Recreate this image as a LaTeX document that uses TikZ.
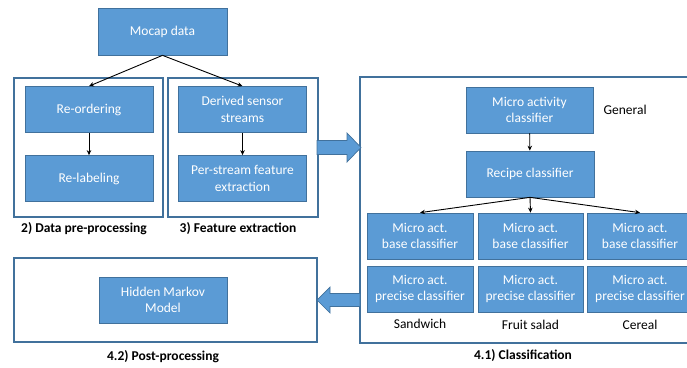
\documentclass[tikz,border=0pt]{standalone}
\usepackage{fontspec}
\setmainfont{Carlito}
\usetikzlibrary{arrows.meta}
\definecolor{boxfill}{HTML}{5B9BD5}
\definecolor{boxline}{HTML}{41719C}
\begin{document}
\begin{tikzpicture}[x=1pt,y=-1pt,
  font=\fontsize{13.5}{16.5}\selectfont,
  block/.style={draw=boxline,line width=0.7pt,fill=boxfill,text=white,
    align=center,inner sep=0pt,minimum width=128pt,minimum height=46pt},
  small/.style={block,minimum width=106pt},
  frame/.style={draw=boxline,line width=1.1pt},
  caption/.style={font=\fontsize{13.5}{16.5}\selectfont\bfseries,anchor=center},
  plain/.style={anchor=center},
  link/.style={-{Stealth[length=5pt,width=4.5pt]},line width=0.9pt,black},
  bigarrow/.style={draw=boxline,line width=0.7pt,fill=boxfill}]
\useasboundingbox (0,0) rectangle (687,367);

% stage frames
\draw[frame] (14,78) rectangle (163,217);
\draw[frame] (168,78) rectangle (318,217);
\draw[frame] (360,77) rectangle (692,343);
\draw[frame] (14,258) rectangle (317,342);

% input and stages 2 and 3
\node[block,minimum width=129pt,minimum height=47pt] (mocap) at (162.5,31.5) {Mocap data};
\node[block] (reorder) at (89,109.5) {Re-ordering};
\node[block] (relabel) at (89,178.5) {Re-labeling};
\node[block] (derived) at (242.5,109.5) {Derived sensor\\streams};
\node[block] (perstream) at (242.5,178.5) {Per-stream feature\\extraction};

\node[caption] (cap2) at (84,229) {2) Data pre-processing};
\node[caption] (cap3) at (238,229) {3) Feature extraction};

\draw[link] (mocap.south) -- (reorder.north);
\draw[link] (mocap.south) -- (derived.north);
\draw[link] (reorder) -- (relabel);
\draw[link] (derived) -- (perstream);

% classification stage
\node[block,minimum width=127pt] (micro) at (529.5,110) {Micro activity\\classifier};
\node[plain,anchor=west] (general) at (600,110) {General};
\node[block] (recipe) at (530,174) {Recipe classifier};

\node[small] (base1) at (420,236) {Micro act.\\base classifier};
\node[small,minimum width=105pt] (base2) at (530.5,236) {Micro act.\\base classifier};
\node[small] (base3) at (640,236) {Micro act.\\base classifier};
\node[small] (prec1) at (420,289) {Micro act.\\precise classifier};
\node[small,minimum width=105pt] (prec2) at (530.5,289) {Micro act.\\precise classifier};
\node[small] (prec3) at (640,289) {Micro act.\\precise classifier};

\node[plain] (sandwich) at (420,323.5) {Sandwich};
\node[plain] (fruit) at (530.5,324.5) {Fruit salad};
\node[plain] (cereal) at (640,324.5) {Cereal};

\draw[link] (micro) -- (recipe);
\draw[link] (recipe.south) -- (base1.north);
\draw[link] (recipe.south) -- (base2.north);
\draw[link] (recipe.south) -- (base3.north);

% post-processing stage
\node[block] (hmm) at (163,300) {Hidden Markov\\Model};

\node[caption] (cap42) at (163,357) {4.2) Post-processing};
\node[caption] (cap41) at (523,356) {4.1) Classification};

% block arrows between stages
\draw[bigarrow] (317,140.5) -- (347,140.5) -- (347,133) -- (361,147.5)
  -- (347,162) -- (347,154.5) -- (317,154.5) -- cycle;
\draw[bigarrow] (360,293.5) -- (330,293.5) -- (330,287) -- (317,300)
  -- (330,313) -- (330,306.5) -- (360,306.5) -- cycle;
\end{tikzpicture}
\end{document}
